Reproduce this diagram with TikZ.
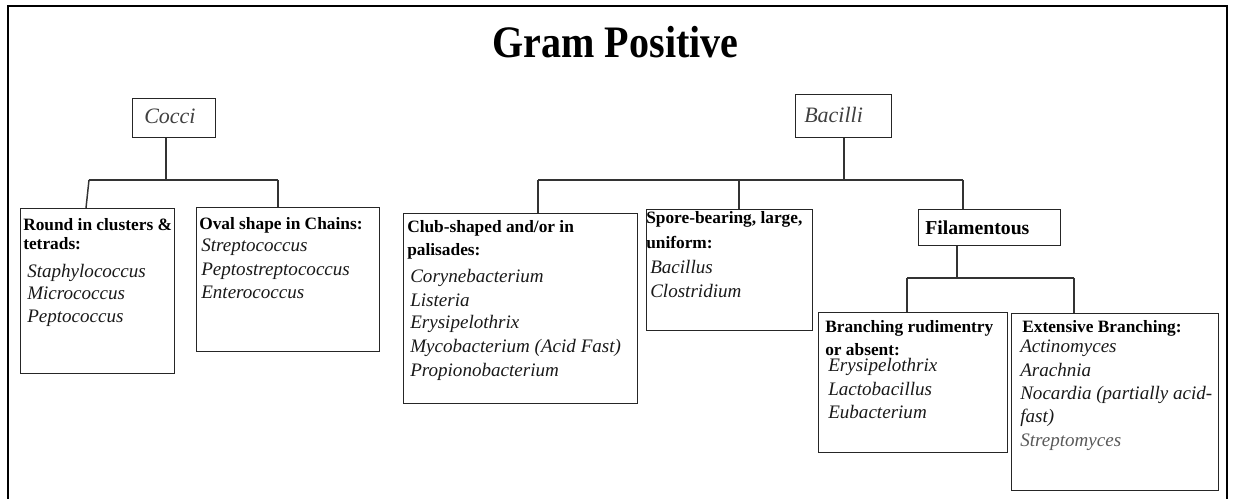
\documentclass[tikz,border=0pt]{standalone}
\usepackage{fontspec}
\setmainfont{Liberation Serif}
\newfontfamily\titlefont{Liberation Serif}[FakeStretch=0.89]
\usetikzlibrary{calc}

% one unit = one pixel of the finished sheet, y running downwards
\tikzset{
  x=0.75pt, y=-0.75pt,
  frame/.style={line width=1.5pt, black},
  box/.style={draw=black!85, line width=1.1pt, rectangle, inner sep=0pt},
  link/.style={draw=black!80, line width=1.1pt},
  hd/.style={anchor=base west, inner sep=0pt, font=\fontsize{13}{15}\selectfont\bfseries},
  sp/.style={anchor=base west, inner sep=0pt, font=\fontsize{14.3}{16}\selectfont\itshape, text=black!90},
  grp/.style={anchor=base west, inner sep=0pt, font=\fontsize{16.5}{18}\selectfont\itshape, text=black!75},
}
% \boxat{name}{x1}{y1}{x2}{y2}: an empty framed box from top-left to bottom-right
\newcommand\boxat[5]{%
  \node[box, anchor=north west, minimum width={(#4-#2)*0.75pt},
        minimum height={(#5-#3)*0.75pt}] (#1) at (#2,#3) {};}

\begin{document}
\begin{tikzpicture}
\useasboundingbox (0,0) rectangle (1240,499);

% page frame (open at the bottom)
\draw[frame] (8,499) -- (8,6) -- (1227,6) -- (1227,499);

% heading
\node[anchor=base, inner sep=0pt, font=\titlefont\fontsize{33.75}{36}\selectfont\bfseries]
  (title) at (615.5,58) {Gram Positive};

% ---------- boxes ----------
\boxat{cocci}{132}{98}{215}{137}
\boxat{bacilli}{795}{94}{891}{137}
\boxat{round}{20}{208}{174}{373}
\boxat{oval}{196}{207}{379}{351}
\boxat{club}{403}{213}{637}{403}
\boxat{spore}{646}{209}{812}{330}
\boxat{fila}{918}{209}{1060}{245}
\boxat{rudi}{818}{312}{1007}{452}
\boxat{ext}{1011}{313}{1218}{490}

% ---------- connectors ----------
% Cocci
\coordinate (cstem) at (166,180);
\coordinate (cbusL) at (89,180);
\coordinate (cbusR) at (278,180);
\coordinate (cfoot) at (86,208);
\draw[link] (cocci.south -| cstem) -- (cstem);
\draw[link] (cbusL) -- (cbusR);
\draw[link] (cbusL) -- (cfoot);
\draw[link] (cbusR) -- (cbusR |- oval.north);

% Bacilli
\coordinate (bstem) at (844,180);
\coordinate (bbusL) at (538,180);
\coordinate (bbusM) at (739,180);
\coordinate (bbusR) at (963,180);
\draw[link] (bacilli.south -| bstem) -- (bstem);
\draw[link] (bbusL) -- (bbusR);
\draw[link] (bbusL) -- (bbusL |- club.north);
\draw[link] (bbusM) -- (bbusM |- spore.north);
\draw[link] (bbusR) -- (bbusR |- fila.north);

% Filamentous
\coordinate (fstem) at (957,278);
\coordinate (fbusL) at (907,278);
\coordinate (fbusR) at (1074,278);
\draw[link] (fila.south -| fstem) -- (fstem);
\draw[link] (fbusL) -- (fbusR);
\draw[link] (fbusL) -- (fbusL |- rudi.north);
\draw[link] (fbusR) -- (fbusR |- ext.north);

% ---------- labels ----------
\node[grp] (tcocci) at (144,124) {Cocci};
\node[grp] (tbacilli) at (804,123) {Bacilli};

\node[hd] (r1) at (23,231) {Round in clusters \&};
\node[hd] (r2) at (23,250) {tetrads:};
\node[sp] (r3) at (27,277) {Staphylococcus};
\node[sp] (r4) at (27,300) {Micrococcus};
\node[sp] (r5) at (27,322) {Peptococcus};

\node[hd] (o1) at (199,230) {Oval shape in Chains:};
\node[sp] (o2) at (201,252) {Streptococcus};
\node[sp] (o3) at (201,276) {Peptostreptococcus};
\node[sp] (o4) at (201,299) {Enterococcus};

\node[hd] (c1) at (407,233) {Club-shaped and/or in};
\node[hd] (c2) at (407,256) {palisades:};
\node[sp] (c3) at (410,283) {Corynebacterium};
\node[sp] (c4) at (410,306) {Listeria};
\node[sp] (c5) at (410,329) {Erysipelothrix};
\node[sp] (c6) at (410,353) {Mycobacterium (Acid Fast)};
\node[sp] (c7) at (410,377) {Propionobacterium};

\node[hd] (s1) at (646,224) {Spore-bearing, large,};
\node[hd] (s2) at (646,248) {uniform:};
\node[sp] (s3) at (650,274) {Bacillus};
\node[sp] (s4) at (650,298) {Clostridium};

\node[hd, font=\fontsize{14.8}{16}\selectfont\bfseries] (f1) at (925,235) {Filamentous};

\node[hd] (u1) at (825,333) {Branching rudimentry};
\node[hd] (u2) at (825,355) {or absent:};
\node[sp] (u3) at (828,372) {Erysipelothrix};
\node[sp] (u4) at (828,395) {Lactobacillus};
\node[sp] (u5) at (828,418) {Eubacterium};

\node[hd] (e1) at (1022,333) {Extensive Branching:};
\node[sp] (e2) at (1020,352) {Actinomyces};
\node[sp] (e3) at (1020,376) {Arachnia};
\node[sp] (e4) at (1020,399) {Nocardia (partially acid-};
\node[sp] (e5) at (1020,422) {fast)};
\node[sp, text=black!65] (e6) at (1020,446) {Streptomyces};
\end{tikzpicture}
\end{document}
